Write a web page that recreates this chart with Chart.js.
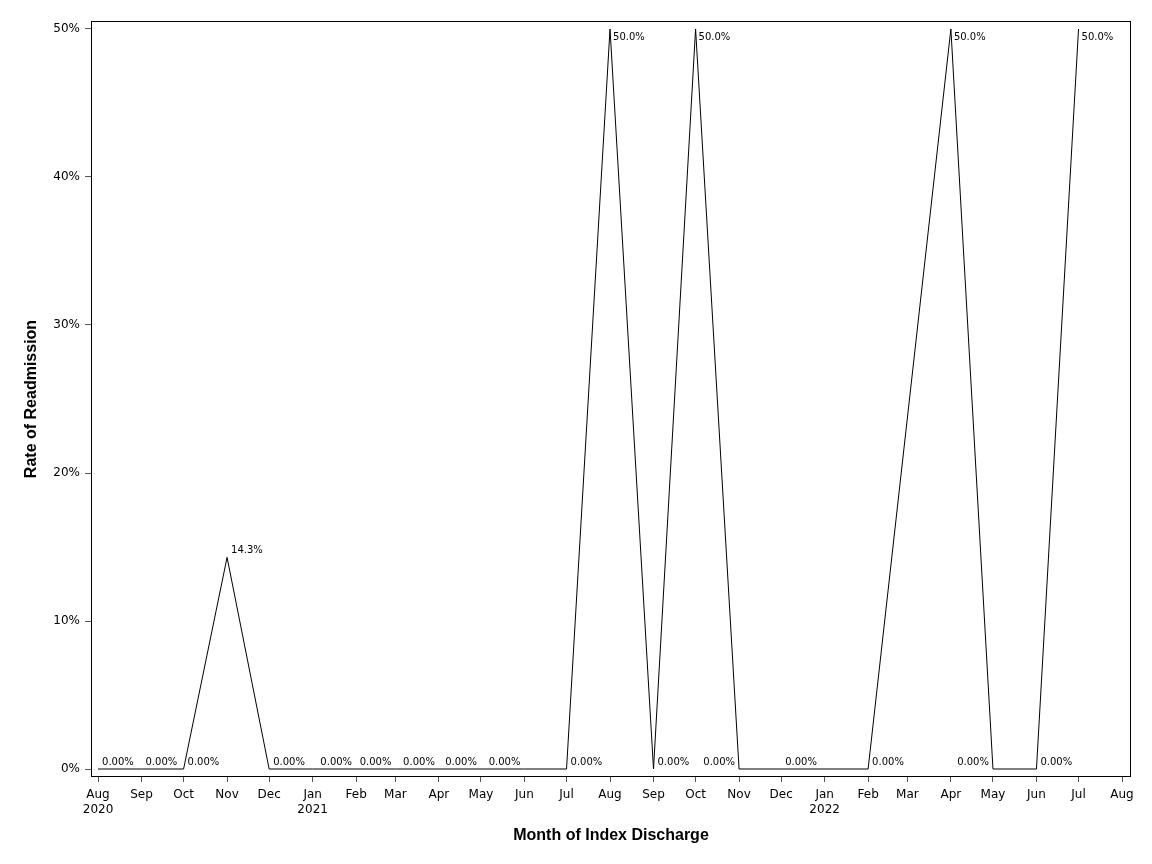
<!DOCTYPE html>
<html>
<head>
<meta charset="utf-8">
<script src="https://cdn.jsdelivr.net/npm/chart.js@4.4.1/dist/chart.umd.min.js"></script>
<style>
html,body{margin:0;padding:0;background:#fff;}
#wrap{width:1152px;height:864px;position:relative;}
</style>
</head>
<body>
<div id="wrap"><canvas id="c" width="1152" height="864"></canvas></div>
<script>
// ---- data ----
const months = ['2020-08','2020-09','2020-10','2020-11','2020-12','2021-01','2021-02','2021-03','2021-04','2021-05','2021-06','2021-07','2021-08','2021-09','2021-10','2021-11','2021-12','2022-02','2022-04','2022-05','2022-06','2022-07'];
const rates = [0,0,0,14.3,0,0,0,0,0,0,0,0,50,0,50,0,0,0,50,0,0,50];
// '' = label hidden (overlap avoidance in the original)
const pointLabels = ['0.00%','0.00%','0.00%','14.3%','0.00%','','0.00%','0.00%','0.00%','0.00%','0.00%','0.00%','50.0%','0.00%','50.0%','0.00%','0.00%','0.00%','50.0%','0.00%','0.00%','50.0%'];
const tickMonths = ['2020-08','2020-09','2020-10','2020-11','2020-12','2021-01','2021-02','2021-03','2021-04','2021-05','2021-06','2021-07','2021-08','2021-09','2021-10','2021-11','2021-12','2022-01','2022-02','2022-03','2022-04','2022-05','2022-06','2022-07','2022-08'];
const monthNames = ['Jan','Feb','Mar','Apr','May','Jun','Jul','Aug','Sep','Oct','Nov','Dec'];
const yTicks = [0,10,20,30,40,50];

// ---- helpers ----
const base = Date.UTC(2020,7,1);
function dayNum(s){const p=s.split('-');return (Date.UTC(+p[0],+p[1]-1,1)-base)/86400000;}
const pts = months.map((m,i)=>({x:dayNum(m),y:rates[i]}));
const tickVals = tickMonths.map(dayNum);
const leftLabelIdx = new Set([6,7,8,9,10,15,19]);

const frame = {
  id:'frame',
  afterDraw(chart){
    const {ctx,chartArea:a}=chart;
    ctx.save();ctx.strokeStyle='#000';ctx.lineWidth=1;
    ctx.strokeRect(Math.round(a.left)+0.5,Math.round(a.top)+0.5,Math.round(a.right-a.left)-1,Math.round(a.bottom-a.top)-1);
    ctx.restore();
  }
};
const valueLabels = {
  id:'valueLabels',
  afterDatasetsDraw(chart){
    const {ctx}=chart;const meta=chart.getDatasetMeta(0);
    ctx.save();ctx.font='10px "DejaVu Sans"';ctx.fillStyle='#000';ctx.textBaseline='middle';
    meta.data.forEach((el,i)=>{
      const t=pointLabels[i];if(!t)return;
      const v=rates[i];const x=el.x,y=el.y;
      if(v>=50){ctx.textAlign='left';ctx.fillText(t,x+3,y+8);}
      else if(leftLabelIdx.has(i)){ctx.textAlign='right';ctx.fillText(t,x-4,y-7);}
      else {ctx.textAlign='left';ctx.fillText(t,x+4,y-7);}
    });
    ctx.restore();
  }
};

new Chart(document.getElementById('c'),{
  type:'line',
  data:{datasets:[{data:pts,borderColor:'#000',borderWidth:1,pointRadius:0,fill:false,tension:0}]},
  options:{
    responsive:false,animation:false,
    layout:{padding:{top:21,right:21,left:18,bottom:19}},
    plugins:{legend:{display:false},tooltip:{enabled:false}},
    scales:{
      x:{type:'linear',min:-5,max:736.4,
        afterBuildTicks(s){s.ticks=tickVals.map(v=>({value:v}));},
        afterFit(s){s.height=68;},
        grid:{display:true,drawOnChartArea:false,drawTicks:true,tickLength:5,color:'#555',tickWidth:1},
        border:{display:false},
        ticks:{autoSkip:false,maxRotation:0,color:'#000',font:{family:'DejaVu Sans',size:12},padding:6,
          callback(v){const d=new Date(base+v*86400000);const m=d.getUTCMonth();const y=d.getUTCFullYear();
            const idx=tickVals.indexOf(v);
            if(idx===0||m===0)return [monthNames[m],String(y)];return monthNames[m];}},
        title:{display:true,text:'Month of Index Discharge',color:'#000',font:{family:'Liberation Sans',size:16,weight:'bold'},padding:{top:4,bottom:0}}
      },
      y:{type:'linear',min:-0.54,max:50.54,
        afterBuildTicks(s){s.ticks=yTicks.map(v=>({value:v}));},
        afterFit(s){s.width=73;},
        grid:{display:true,drawOnChartArea:false,drawTicks:true,tickLength:6,color:'#555'},
        border:{display:false},
        ticks:{color:'#000',font:{family:'DejaVu Sans',size:12},padding:5,callback(v){return v+'%';}},
        title:{display:true,text:'Rate of Readmission',color:'#000',font:{family:'Liberation Sans',size:16,weight:'bold'},padding:{top:4,bottom:0}}
      }
    }
  },
  plugins:[frame,valueLabels]
});
</script>
</body>
</html>
